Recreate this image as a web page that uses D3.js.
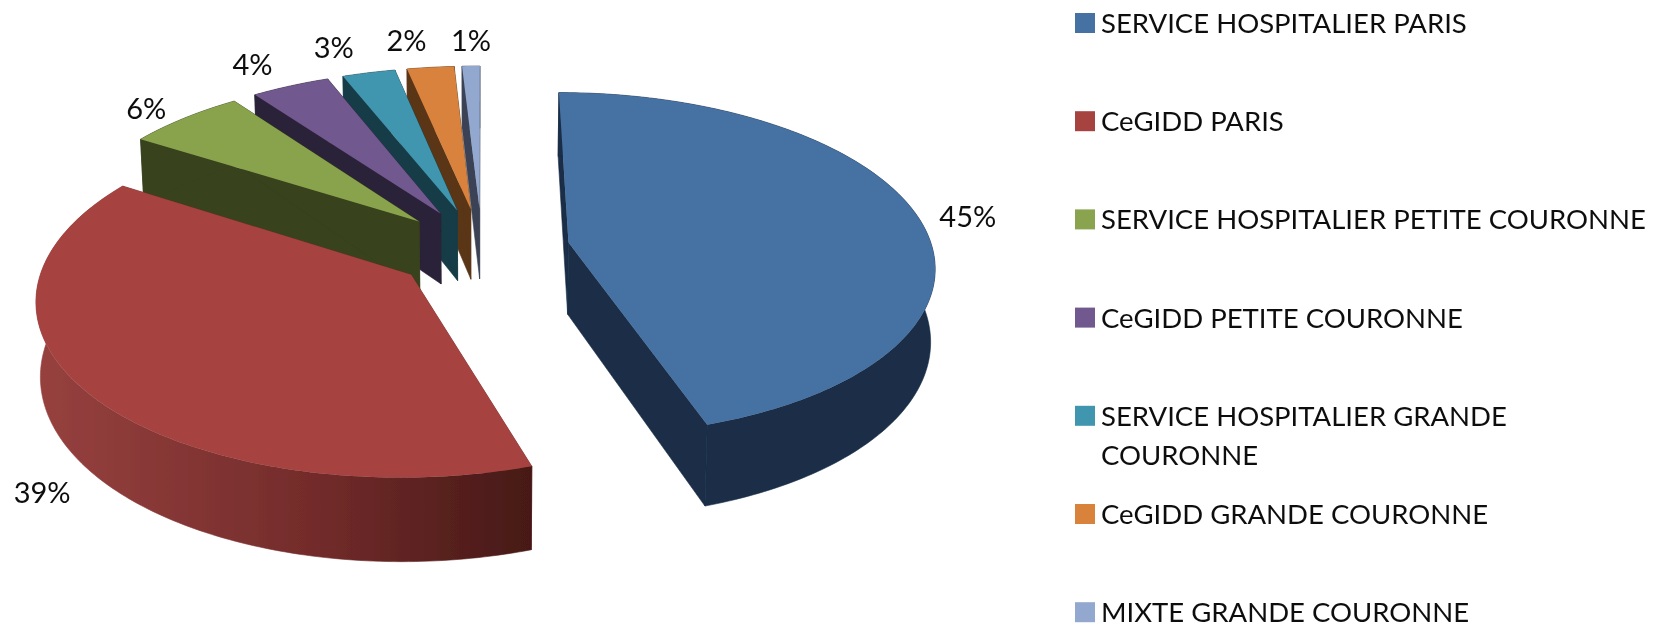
<!DOCTYPE html>
<html>
<head>
<meta charset="utf-8">
<script src="https://cdn.jsdelivr.net/npm/d3@7"></script>
<style>
  html, body { margin: 0; background: #fff; }
  svg { display: block; }
  text { font-family: Lato, "Open Sans", sans-serif; fill: #111; }
</style>
</head>
<body>
<div id="chart"></div>
<script>
const categories = [
  "SERVICE HOSPITALIER PARIS",
  "CeGIDD PARIS",
  "SERVICE HOSPITALIER PETITE COURONNE",
  "CeGIDD PETITE COURONNE",
  "SERVICE HOSPITALIER GRANDE COURONNE",
  "CeGIDD GRANDE COURONNE",
  "MIXTE GRANDE COURONNE"
];
// labels show these rounded; the small ones are estimated from the slice widths
const shares = [45, 39, 6, 4, 2.7, 2.4, 0.9];
const topColors = ["#4571a3", "#a64341", "#89a34e", "#71588f", "#4196af", "#d9823c", "#93a8cf"];
const wallColors = ["#1a2d46", "#7a2f2e", "#38421c", "#2b2138", "#193c47", "#5a3517", "#3b4354"];

const width = 1653, height = 627;
const cx = 482, cy = 249;
const radius = 364, tilt = 0.468, depth = 72, viewDist = 2900;
const explode = 88;

// label position relative to the middle of each slice's rim
const labelNudge = [[50, -1], [-45, 99], [-38, -11], [-38, -22], [-35, -26], [-24, -28], [0, -27]];

const svg = d3.select("#chart").append("svg")
  .attr("width", width)
  .attr("height", height);

const defs = svg.append("defs");
const redWall = defs.append("linearGradient")
  .attr("id", "red-wall")
  .attr("gradientUnits", "userSpaceOnUse")
  .attr("x1", 36).attr("x2", 531).attr("y1", 0).attr("y2", 0);
redWall.append("stop").attr("offset", 0).attr("stop-color", "#97413f");
redWall.append("stop").attr("offset", 0.55).attr("stop-color", "#742c2b");
redWall.append("stop").attr("offset", 1).attr("stop-color", "#471917");

// the source is a soft, upscaled bitmap
defs.append("filter").attr("id", "soft-shape")
  .append("feGaussianBlur").attr("stdDeviation", 0.6);
defs.append("filter").attr("id", "soft-text")
  .append("feGaussianBlur").attr("stdDeviation", 0.35);

const pie = d3.pie().sort(null).value((d) => d);
const slices = pie(shares).map((d, i) => ({ ...d, i }));

// world point on the disc -> screen, simple perspective
function project(wx, wy, z) {
  const s = viewDist / (viewDist - wy);
  return [
    cx + wx * s * (1 - z * 0.00014),
    cy + tilt * wy * s + z * s
  ];
}

function worldCenter(d) {
  const mid = (d.startAngle + d.endAngle) / 2;
  return [Math.sin(mid) * explode, -Math.cos(mid) * explode];
}

function rimPoint(d, angle, z) {
  const [ox, oy] = worldCenter(d);
  return project(ox + Math.sin(angle) * radius, oy - Math.cos(angle) * radius, z);
}

function rimAngles(d) {
  const n = Math.max(2, Math.ceil((d.endAngle - d.startAngle) * 60));
  return d3.range(n + 1).map((k) => d.startAngle + (d.endAngle - d.startAngle) * k / n);
}

const line = d3.line();

function topPath(d) {
  const [ox, oy] = worldCenter(d);
  return line([project(ox, oy, 0), ...rimAngles(d).map((a) => rimPoint(d, a, 0))]) + "Z";
}

function rimWallPath(d) {
  const angles = rimAngles(d);
  return line([
    ...angles.map((a) => rimPoint(d, a, 0)),
    ...angles.slice().reverse().map((a) => rimPoint(d, a, depth))
  ]) + "Z";
}

function radialWallPath(d, angle) {
  const [ox, oy] = worldCenter(d);
  return line([
    project(ox, oy, 0),
    rimPoint(d, angle, 0),
    rimPoint(d, angle, depth),
    project(ox, oy, depth)
  ]) + "Z";
}

// back slices first so the nearer ones cover them
const drawOrder = [0, 6, 5, 4, 3, 2, 1].map((i) => slices[i]);

const sliceG = svg.append("g").attr("class", "slices")
  .attr("filter", "url(#soft-shape)")
  .selectAll("g")
  .data(drawOrder)
  .join("g");

sliceG.append("path")
  .attr("d", (d) => radialWallPath(d, d.startAngle))
  .attr("fill", (d) => wallColors[d.i])
  .attr("stroke", (d) => wallColors[d.i])
  .attr("stroke-width", 0.6);
sliceG.append("path")
  .attr("d", (d) => radialWallPath(d, d.endAngle))
  .attr("fill", (d) => wallColors[d.i])
  .attr("stroke", (d) => wallColors[d.i])
  .attr("stroke-width", 0.6);
sliceG.append("path")
  .attr("d", rimWallPath)
  .attr("fill", (d) => (d.i === 1 ? "url(#red-wall)" : wallColors[d.i]))
  .attr("stroke", (d) => (d.i === 1 ? "url(#red-wall)" : wallColors[d.i]))
  .attr("stroke-width", 0.6);
sliceG.append("path")
  .attr("d", topPath)
  .attr("fill", (d) => topColors[d.i]);

// percent labels
svg.append("g").attr("class", "labels")
  .attr("filter", "url(#soft-text)")
  .selectAll("text")
  .data(slices)
  .join("text")
  .attr("x", (d) => rimPoint(d, (d.startAngle + d.endAngle) / 2, 0)[0] + labelNudge[d.i][0])
  .attr("y", (d) => rimPoint(d, (d.startAngle + d.endAngle) / 2, 0)[1] + labelNudge[d.i][1])
  .attr("text-anchor", "middle")
  .attr("dominant-baseline", "central")
  .attr("font-size", 29)
  .text((d) => `${Math.round(d.data)}%`);

// legend
const legendY = (i) => 23 + i * 98.2;
const legend = svg.append("g").attr("class", "legend")
  .selectAll("g")
  .data(categories)
  .join("g")
  .attr("transform", (d, i) => `translate(1075,${legendY(i)})`);

legend.append("rect")
  .attr("y", -10)
  .attr("width", 20)
  .attr("height", 20)
  .attr("fill", (d, i) => topColors[i]);

legend.append("text")
  .attr("x", 26)
  .attr("y", 10)
  .attr("font-size", 27.5)
  .attr("filter", "url(#soft-text)")
  .each(function (d) {
    // the long hospital label wraps on the last word, as in the legend box
    const el = d3.select(this);
    if (d === "SERVICE HOSPITALIER GRANDE COURONNE") {
      el.append("tspan").attr("x", 26).text("SERVICE HOSPITALIER GRANDE");
      el.append("tspan").attr("x", 26).attr("dy", 39).text("COURONNE");
    } else {
      el.text(d);
    }
  });
</script>
</body>
</html>
